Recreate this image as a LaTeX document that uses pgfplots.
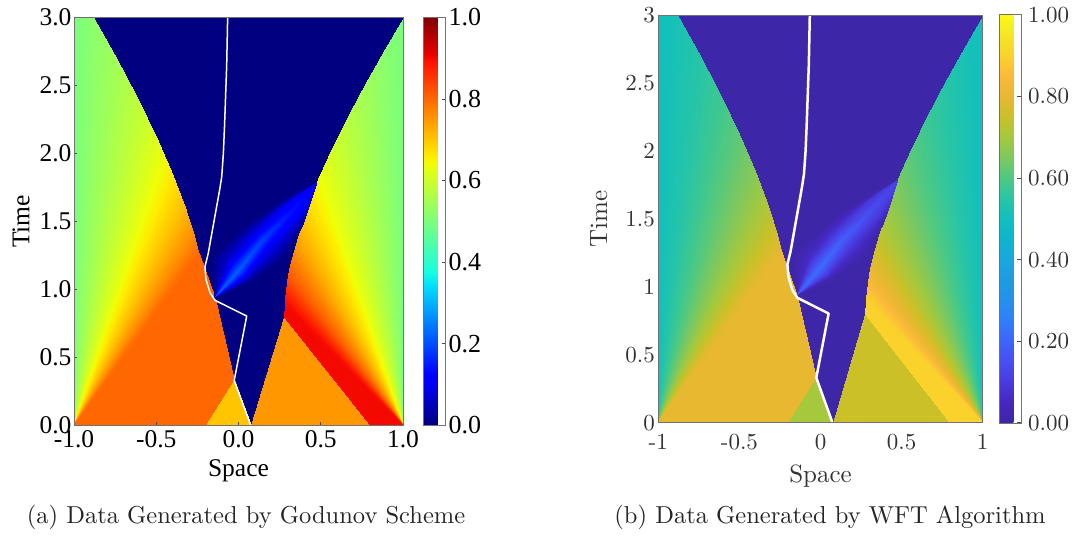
\documentclass[border=0pt]{standalone}
\usepackage{fontspec}
\usepackage{pgfplots}
\usepackage{pgfplotstable}
\pgfplotsset{compat=1.18}
\usepgfplotslibrary{patchplots}
\setmainfont{lmroman10-regular}[Extension=.otf]
\newfontfamily\timesf{Liberation Serif}

% matplotlib jet
\pgfplotsset{colormap={mpljet}{
  rgb(0pt)=(0,0,.5) rgb(110pt)=(0,0,1) rgb(125pt)=(0,0,1) rgb(340pt)=(0,.86,1)
  rgb(375pt)=(.08,1,.887) rgb(640pt)=(.935,1,.032) rgb(660pt)=(1,.926,0)
  rgb(890pt)=(1,.074,0) rgb(910pt)=(.909,0,0) rgb(1000pt)=(.5,0,0)}}
% parula
\pgfplotsset{colormap={parulaish}{
  rgb255=(62,38,168) rgb255=(68,40,190) rgb255=(72,58,222) rgb255=(72,78,242)
  rgb255=(62,100,250) rgb255=(48,125,250) rgb255=(38,145,238) rgb255=(30,155,225)
  rgb255=(25,168,222) rgb255=(15,180,205) rgb255=(16,191,190) rgb255=(40,197,165)
  rgb255=(78,201,130) rgb255=(125,200,95) rgb255=(165,200,60) rgb255=(203,192,40)
  rgb255=(232,184,48) rgb255=(251,185,58) rgb255=(250,210,43) rgb255=(245,230,35)
  rgb255=(249,251,21)}}

% flat regions
\pgfplotstableread{
x y c
-1 0 0
1 0 0
1 3 0
-1 0 0
1 3 0
-1 3 0
-1 0 .8
-.2 0 .8
-.03 .33 .8
-1 0 .8
-.03 .33 .8
-.143 .934 .8
-1 0 .8
-.143 .934 .8
-.242 1.27 .8
-.2 0 .7
.074 0 .7
-.03 .33 .7
.074 0 .75
.8 0 .75
.277 .8 .75
.8 0 .9
1 0 .9
.283 .9 .9
.8 0 .9
.283 .9 .9
.277 .8 .9
}\tris

% rarefaction fans, one quad per wedge, apex given twice
\pgfplotstableread{
x y c
-1 0 .5
-1 0 .52
-.882 3 .52
-1 3 .5
-1 0 .52
-1 0 .548
-.742 2.7 .548
-.882 3 .52
-1 0 .548
-1 0 .581
-.611 2.4 .581
-.742 2.7 .548
-1 0 .581
-1 0 .621
-.492 2.1 .621
-.611 2.4 .581
-1 0 .621
-1 0 .662
-.402 1.85 .662
-.492 2.1 .621
-1 0 .662
-1 0 .712
-.323 1.6 .712
-.402 1.85 .662
-1 0 .712
-1 0 .761
-.27 1.4 .761
-.323 1.6 .712
-1 0 .761
-1 0 .8
-.242 1.27 .8
-.27 1.4 .761
1 0 .5
1 0 .52
.888 2.75 .52
1 2.98 .5
1 0 .52
1 0 .546
.771 2.5 .546
.888 2.75 .52
1 0 .546
1 0 .575
.661 2.25 .575
.771 2.5 .546
1 0 .575
1 0 .61
.559 2 .61
.661 2.25 .575
1 0 .61
1 0 .647
.477 1.78 .647
.559 2 .61
1 0 .647
1 0 .67
.44 1.65 .67
.477 1.78 .647
1 0 .67
1 0 .7
.4 1.5 .7
.44 1.65 .67
1 0 .7
1 0 .735
.36 1.36 .735
.4 1.5 .7
1 0 .735
1 0 .786
.32 1.19 .786
.36 1.36 .735
1 0 .786
1 0 .819
.303 1.093 .819
.32 1.19 .786
1 0 .819
1 0 .9
.283 .9 .9
.303 1.093 .819
}\fans

% blue wedge behind the left shock: four strips along the ridge
\pgfplotstableread{
x y c
-.143 .934 0
-.143 .934 .07
-.062 1.204 .07
-.163 1.236 0
-.143 .934 .07
-.143 .934 .22
-.001 1.13 .22
-.062 1.204 .07
-.143 .934 .22
-.143 .934 .08
.05 1.081 .08
-.001 1.13 .22
-.143 .934 .08
-.143 .934 0
.08 1.057 0
.05 1.081 .08
-.163 1.236 0
-.062 1.204 .07
.096 1.4 .09
.039 1.462 0
-.062 1.204 .07
-.001 1.13 .22
.141 1.351 .19
.096 1.4 .09
-.001 1.13 .22
.05 1.081 .08
.192 1.29 .09
.141 1.351 .19
.05 1.081 .08
.08 1.057 0
.262 1.204 0
.192 1.29 .09
.039 1.462 0
.096 1.4 .09
.287 1.614 .1
.26 1.643 0
.096 1.4 .09
.141 1.351 .19
.323 1.572 .14
.287 1.614 .1
.141 1.351 .19
.192 1.29 .09
.36 1.523 .1
.323 1.572 .14
.192 1.29 .09
.262 1.204 0
.388 1.466 .02
.36 1.523 .1
.26 1.643 0
.287 1.614 .1
.475 1.781 .11
.475 1.781 .04
.287 1.614 .1
.323 1.572 .14
.475 1.781 .12
.475 1.781 .11
.323 1.572 .14
.36 1.523 .1
.455 1.707 .11
.475 1.781 .12
.36 1.523 .1
.388 1.466 .02
.435 1.633 .09
.455 1.707 .11
}\wedge

% white trajectory
\pgfplotstableread{
x y
.074 0
-.026 .331
.05 .804
-.143 .92
-.173 .976
-.198 1.074
-.204 1.167
-.184 1.265
-.133 1.609
-.115 1.73
-.102 1.829
-.092 2
-.085 2.2
-.072 2.639
-.066 3
}\traj

\pgfplotsset{fieldaxis/.style={
  scale only axis, anchor=south west,
  xmin=-1, xmax=1, ymin=0, ymax=3, axis on top,
  tick pos=left, point meta min=0, point meta max=1,
  axis line style={draw=black!55, line width=.8pt},
  xtick={-1,-.5,0,.5,1}, ytick={0,.5,1,1.5,2,2.5,3},
  tick style={draw=black!70, line width=.6pt},
  xlabel={Space}, ylabel={Time},
}}
\newcommand{\fielddata}[1]{
  \addplot[patch, patch type=triangle, shader=interp, point meta=\thisrow{c}, forget plot] table {\tris};
  \addplot[patch, patch type=bilinear, shader=interp, point meta=\thisrow{c}, forget plot] table {\fans};
  \addplot[patch, patch type=bilinear, shader=interp, point meta=\thisrow{c}, forget plot] table {\wedge};
  \addplot[white, line width=#1, no marks, line join=round, forget plot] table {\traj};
}

\begin{document}
\begin{tikzpicture}[x=1pt,y=1pt]
\useasboundingbox (0,0) rectangle (1075,536);

\begin{axis}[fieldaxis, at={(74pt,110.7pt)}, width=329pt, height=407.6pt,
  colormap name=mpljet,
  xticklabels={-1.0,-0.5,0.0,0.5,1.0},
  yticklabels={0.0,0.5,1.0,1.5,2.0,2.5,3.0},
  tick label style={font=\timesf\fontsize{25.5}{26}\selectfont},
  major tick length=3pt,
  xticklabel style={yshift=-2pt}, yticklabel style={xshift=1pt},
  xlabel style={yshift=-5pt, font=\timesf\fontsize{25.5}{26}\selectfont},
  ylabel style={yshift=3pt, font=\timesf\fontsize{25.5}{26}\selectfont},
  colorbar,
  colorbar style={at={(parent axis.south east)}, anchor=south west, xshift=12pt,
    width=21.5pt, height=408pt, ytick={0,.2,.4,.6,.8,1},
    yticklabels={0.0,0.2,0.4,0.6,0.8,1.0},
    tick pos=right, major tick length=3pt,
    axis line style={draw=black!55},
    yticklabel style={font=\timesf\fontsize{26}{26}\selectfont}},
]
\fielddata{1.5pt}
\end{axis}

\begin{axis}[fieldaxis, at={(658.3pt,113.3pt)}, width=324.4pt, height=407.4pt,
  colormap name=parulaish,
  xticklabels={-1,-0.5,0,0.5,1},
  yticklabels={0,0.5,1,1.5,2,2.5,3},
  tick label style={font=\fontsize{23}{23}\selectfont, text=black!80},
  major tick length=0pt,
  xticklabel style={yshift=-8pt},
  xlabel style={yshift=-8pt, font=\fontsize{25}{25}\selectfont, text=black!80},
  ylabel style={yshift=11pt, font=\fontsize{25}{25}\selectfont, text=black!80},
  colorbar,
  colorbar style={at={(parent axis.south east)}, anchor=south west, xshift=8pt,
    width=22.4pt, height=408pt, ytick={0,.2,.4,.6,.8,1},
    yticklabels={0.00,0.20,0.40,0.60,0.80,1.00},
    tick pos=right, tick align=inside, major tick length=5pt,
    axis line style={draw=black!55},
    yticklabel style={xshift=3pt, font=\fontsize{23}{23}\selectfont, text=black!80}},
]
\fielddata{2.5pt}
\end{axis}

\node[font=\fontsize{24.5}{26}\selectfont, text=black!85] at (246,19) {(a) Data Generated by Godunov Scheme};
\node[font=\fontsize{24.5}{26}\selectfont, text=black!85] at (830,19) {(b) Data Generated by WFT Algorithm};
\end{tikzpicture}
\end{document}
